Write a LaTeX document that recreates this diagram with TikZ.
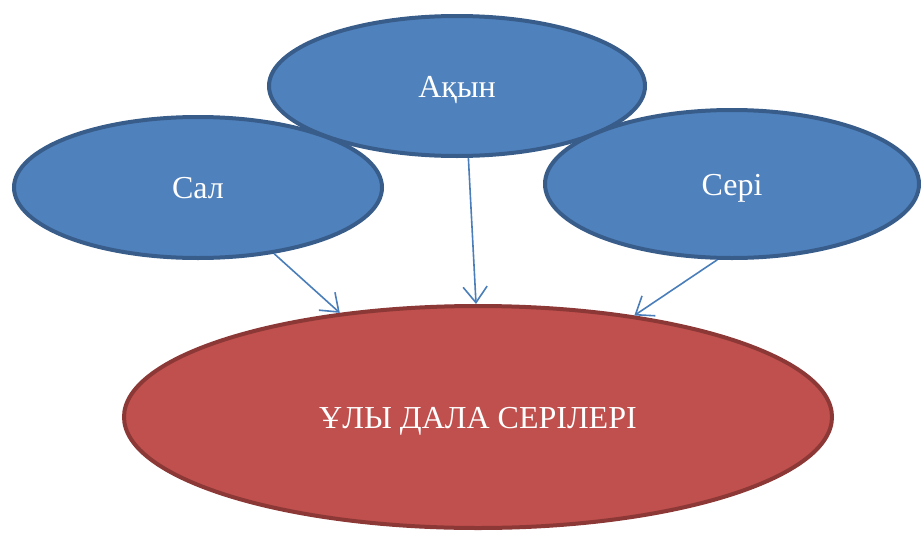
\documentclass[tikz,border=0pt]{standalone}
\usepackage{fontspec}
\setmainfont{Liberation Serif}
\usetikzlibrary{shapes.geometric,arrows.meta}
\definecolor{bluefill}{HTML}{4F81BD}
\definecolor{blueline}{HTML}{385D8A}
\definecolor{redfill}{HTML}{C0504D}
\definecolor{redline}{HTML}{8C3836}
\definecolor{arrowcol}{HTML}{4A7EBB}
\tikzset{
  blueell/.style={ellipse, draw=blueline, fill=bluefill, line width=4pt, inner sep=0pt,
    text=white, font=\fontsize{32}{34}\selectfont, text height=22pt, text depth=0pt},
  redell/.style={ellipse, draw=redline, fill=redfill, line width=4pt, inner sep=0pt,
    text=white, font=\fontsize{32}{34}\selectfont, text height=22pt, text depth=0pt},
  arr/.style={draw=arrowcol, line width=1.6pt, -{Straight Barb[length=16pt,width=24pt,line width=1.6pt]}}
}
\begin{document}
\begin{tikzpicture}[x=1pt,y=-1pt]
\useasboundingbox (0,0) rectangle (921,533);
\node[blueell, minimum width=376pt, minimum height=140pt] (akyn) at (457,86) {Ақын};
\node[blueell, minimum width=368pt, minimum height=141pt] (sal) at (198,187.5) {Сал};
\node[blueell, minimum width=374pt, minimum height=148pt] (seri) at (732,184) {Сері};
\node[redell, minimum width=708pt, minimum height=222pt] (dala) at (478,417) {ҰЛЫ ДАЛА СЕРІЛЕРІ};
\draw[arr] (sal.-41) -- (dala.143);
\draw[arr] (akyn.-81) -- (dala.91);
\draw[arr] (seri.259) -- (dala.33);
\end{tikzpicture}
\end{document}
